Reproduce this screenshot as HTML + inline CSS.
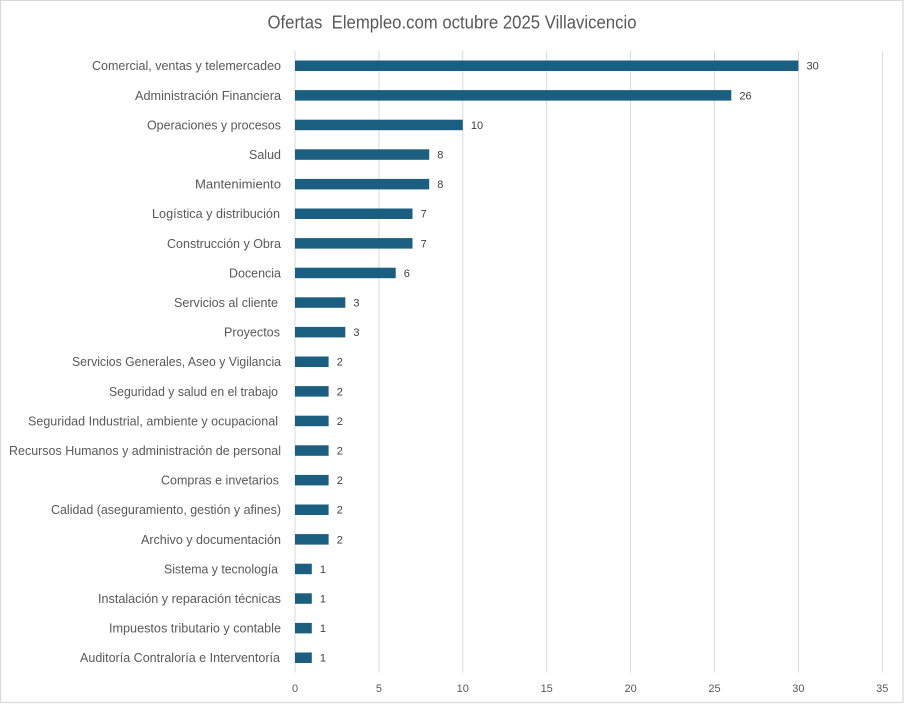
<!DOCTYPE html>
<html>
<head>
<meta charset="utf-8">
<style>
  html,body{margin:0;padding:0;background:#fff;}
  svg{display:block;}
  text{font-family:"Liberation Sans", Arial, sans-serif;}
  .lbl{font-size:12.5px;fill:#595959;}
  .val{font-size:11px;fill:#404040;}
  .tick{font-size:11px;fill:#595959;}
</style>
</head>
<body>
<svg width="906" height="707" viewBox="0 0 906 707" xmlns="http://www.w3.org/2000/svg">
  <rect x="0" y="0" width="906" height="707" fill="#fff"/>
  <rect x="0.5" y="0.5" width="902.5" height="702" fill="#fff" stroke="#d9d9d9" stroke-width="1.2"/>

  <text x="452" y="28.5" text-anchor="middle" font-size="18" fill="#595959" textLength="369" lengthAdjust="spacingAndGlyphs" style="white-space:pre">Ofertas  Elempleo.com octubre 2025 Villavicencio</text>

  <!-- gridlines -->
  <g stroke="#d9d9d9" stroke-width="1">
    <line x1="295" y1="51" x2="295" y2="672.5"/>
    <line x1="378.9" y1="51" x2="378.9" y2="672.5"/>
    <line x1="462.8" y1="51" x2="462.8" y2="672.5"/>
    <line x1="546.7" y1="51" x2="546.7" y2="672.5"/>
    <line x1="630.6" y1="51" x2="630.6" y2="672.5"/>
    <line x1="714.5" y1="51" x2="714.5" y2="672.5"/>
    <line x1="798.4" y1="51" x2="798.4" y2="672.5"/>
    <line x1="882.3" y1="51" x2="882.3" y2="672.5"/>
  </g>

  <!-- tick labels -->
  <g class="tick" text-anchor="middle">
    <text x="295" y="692">0</text>
    <text x="378.9" y="692">5</text>
    <text x="462.8" y="692">10</text>
    <text x="546.7" y="692">15</text>
    <text x="630.6" y="692">20</text>
    <text x="714.5" y="692">25</text>
    <text x="798.4" y="692">30</text>
    <text x="882.3" y="692">35</text>
  </g>

  <!-- bars -->
  <g fill="#1a5e80">
    <rect x="295" y="60.5" width="503.4" height="10.5"/>
    <rect x="295" y="90.1" width="436.3" height="10.5"/>
    <rect x="295" y="119.7" width="167.8" height="10.5"/>
    <rect x="295" y="149.3" width="134.2" height="10.5"/>
    <rect x="295" y="178.9" width="134.2" height="10.5"/>
    <rect x="295" y="208.5" width="117.5" height="10.5"/>
    <rect x="295" y="238.1" width="117.5" height="10.5"/>
    <rect x="295" y="267.7" width="100.7" height="10.5"/>
    <rect x="295" y="297.3" width="50.3" height="10.5"/>
    <rect x="295" y="326.9" width="50.3" height="10.5"/>
    <rect x="295" y="356.5" width="33.6" height="10.5"/>
    <rect x="295" y="386.1" width="33.6" height="10.5"/>
    <rect x="295" y="415.7" width="33.6" height="10.5"/>
    <rect x="295" y="445.3" width="33.6" height="10.5"/>
    <rect x="295" y="474.9" width="33.6" height="10.5"/>
    <rect x="295" y="504.5" width="33.6" height="10.5"/>
    <rect x="295" y="534.1" width="33.6" height="10.5"/>
    <rect x="295" y="563.7" width="16.8" height="10.5"/>
    <rect x="295" y="593.3" width="16.8" height="10.5"/>
    <rect x="295" y="622.9" width="16.8" height="10.5"/>
    <rect x="295" y="652.5" width="16.8" height="10.5"/>
  </g>

  <!-- value labels -->
  <g class="val">
    <text x="806.5" y="69.7">30</text>
    <text x="739.4" y="99.3">26</text>
    <text x="470.9" y="128.9">10</text>
    <text x="437.3" y="158.5">8</text>
    <text x="437.3" y="188.1">8</text>
    <text x="420.6" y="217.7">7</text>
    <text x="420.6" y="247.3">7</text>
    <text x="403.8" y="276.9">6</text>
    <text x="353.4" y="306.5">3</text>
    <text x="353.4" y="336.1">3</text>
    <text x="336.7" y="365.7">2</text>
    <text x="336.7" y="395.3">2</text>
    <text x="336.7" y="424.9">2</text>
    <text x="336.7" y="454.5">2</text>
    <text x="336.7" y="484.1">2</text>
    <text x="336.7" y="513.7">2</text>
    <text x="336.7" y="543.3">2</text>
    <text x="319.9" y="572.9">1</text>
    <text x="319.9" y="602.5">1</text>
    <text x="319.9" y="632.1">1</text>
    <text x="319.9" y="661.7">1</text>
  </g>

  <!-- category labels -->
  <g class="lbl" text-anchor="end">
    <text x="281" y="70.2" textLength="189" lengthAdjust="spacingAndGlyphs">Comercial, ventas y telemercadeo</text>
    <text x="281" y="99.8" textLength="146" lengthAdjust="spacingAndGlyphs">Administración Financiera</text>
    <text x="281" y="129.4" textLength="134" lengthAdjust="spacingAndGlyphs">Operaciones y procesos</text>
    <text x="281" y="159" textLength="32" lengthAdjust="spacingAndGlyphs">Salud</text>
    <text x="281" y="188.6" textLength="86" lengthAdjust="spacingAndGlyphs">Mantenimiento</text>
    <text x="280" y="218.2" textLength="128" lengthAdjust="spacingAndGlyphs">Logística y distribución</text>
    <text x="281" y="247.8" textLength="114" lengthAdjust="spacingAndGlyphs">Construcción y Obra</text>
    <text x="281" y="277.4" textLength="52" lengthAdjust="spacingAndGlyphs">Docencia</text>
    <text x="278" y="307" textLength="104" lengthAdjust="spacingAndGlyphs">Servicios al cliente</text>
    <text x="280" y="336.6" textLength="56" lengthAdjust="spacingAndGlyphs">Proyectos</text>
    <text x="281" y="366.2" textLength="209" lengthAdjust="spacingAndGlyphs">Servicios Generales, Aseo y Vigilancia</text>
    <text x="278" y="395.8" textLength="169" lengthAdjust="spacingAndGlyphs">Seguridad y salud en el trabajo</text>
    <text x="278" y="425.4" textLength="250" lengthAdjust="spacingAndGlyphs">Seguridad Industrial, ambiente y ocupacional</text>
    <text x="281" y="455" textLength="272" lengthAdjust="spacingAndGlyphs">Recursos Humanos y administración de personal</text>
    <text x="279" y="484.6" textLength="118" lengthAdjust="spacingAndGlyphs">Compras e invetarios</text>
    <text x="281" y="514.2" textLength="230" lengthAdjust="spacingAndGlyphs">Calidad (aseguramiento, gestión y afines)</text>
    <text x="281" y="543.8" textLength="140" lengthAdjust="spacingAndGlyphs">Archivo y documentación</text>
    <text x="278" y="573.4" textLength="114" lengthAdjust="spacingAndGlyphs">Sistema y tecnología</text>
    <text x="281" y="603" textLength="183" lengthAdjust="spacingAndGlyphs">Instalación y reparación técnicas</text>
    <text x="281" y="632.6" textLength="172" lengthAdjust="spacingAndGlyphs">Impuestos tributario y contable</text>
    <text x="280" y="662.2" textLength="200" lengthAdjust="spacingAndGlyphs">Auditoría Contraloría e Interventoría</text>
  </g>
</svg>
</body>
</html>
